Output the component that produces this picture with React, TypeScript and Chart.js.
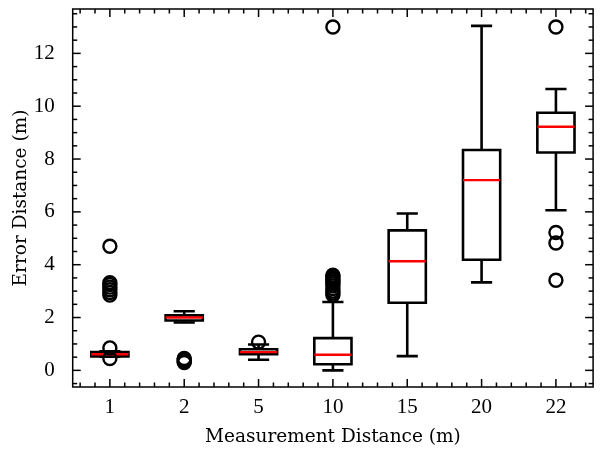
import React, { useEffect, useRef } from 'react';
import { Chart, registerables } from 'chart.js';

Chart.register(...registerables);

// ---- data ----
const categories = ['1', '2', '5', '10', '15', '20', '22'];
const whiskerLow = [0.52, 1.81, 0.4, 0.0, 0.54, 3.33, 6.06];
const quartile1 = [0.53, 1.89, 0.61, 0.23, 2.56, 4.19, 8.25];
const medians = [0.61, 2.0, 0.69, 0.59, 4.13, 7.2, 9.22];
const quartile3 = [0.69, 2.08, 0.8, 1.22, 5.3, 8.34, 9.75];
const whiskerHigh = [0.72, 2.24, 0.98, 2.59, 5.94, 13.04, 10.65];

const fliers1 = [0.45, 0.85, 2.85, 2.95, 3.05, 3.15, 3.25, 3.32, 4.7];
const fliers2 = [0.3, 0.34, 0.38, 0.42, 0.45];
const fliers5 = [1.07];
const fliers10 = [2.85, 2.93, 3.0, 3.1, 3.2, 3.28, 3.35, 3.42, 3.48, 3.55, 3.6, 13.0];
const fliers15: number[] = [];
const fliers20: number[] = [];
const fliers22 = [3.41, 4.82, 5.22, 13.0];
const fliers = [fliers1, fliers2, fliers5, fliers10, fliers15, fliers20, fliers22];

const yTicks = [0, 2, 4, 6, 8, 10, 12];
const yMin = -0.63;
const yMax = 13.68;
const xMin = 0.5;
const xMax = 7.5;

const xLabel = 'Measurement Distance (m)';
const yLabel = 'Error Distance (m)';

// ---- styles ----
const BOX_HALF = 0.25;
const CAP_HALF = 0.125;
const LINE_W = 2.6;
const TICK_FONT = { family: '"Liberation Serif", serif', size: 21 };
const TITLE_FONT = { family: '"DejaVu Serif", serif', size: 18.5 };

type P = { x: number; y: number | null };

function buildBoxes(): P[] {
  const pts: P[] = [];
  categories.forEach((_, i) => {
    const c = i + 1;
    pts.push({ x: c - BOX_HALF, y: quartile1[i] });
    pts.push({ x: c + BOX_HALF, y: quartile1[i] });
    pts.push({ x: c + BOX_HALF, y: quartile3[i] });
    pts.push({ x: c - BOX_HALF, y: quartile3[i] });
    pts.push({ x: c - BOX_HALF, y: quartile1[i] });
    pts.push({ x: c, y: null });
  });
  return pts;
}

function buildWhiskers(): P[] {
  const pts: P[] = [];
  categories.forEach((_, i) => {
    const c = i + 1;
    pts.push({ x: c, y: quartile1[i] }, { x: c, y: whiskerLow[i] }, { x: c, y: null });
    pts.push({ x: c, y: quartile3[i] }, { x: c, y: whiskerHigh[i] }, { x: c, y: null });
  });
  return pts;
}

function buildCaps(): P[] {
  const pts: P[] = [];
  categories.forEach((_, i) => {
    const c = i + 1;
    pts.push({ x: c - CAP_HALF, y: whiskerLow[i] }, { x: c + CAP_HALF, y: whiskerLow[i] }, { x: c, y: null });
    pts.push({ x: c - CAP_HALF, y: whiskerHigh[i] }, { x: c + CAP_HALF, y: whiskerHigh[i] }, { x: c, y: null });
  });
  return pts;
}

function buildMedians(): P[] {
  const pts: P[] = [];
  categories.forEach((_, i) => {
    const c = i + 1;
    pts.push({ x: c - BOX_HALF, y: medians[i] }, { x: c + BOX_HALF, y: medians[i] }, { x: c, y: null });
  });
  return pts;
}

function buildFliers(): P[] {
  const pts: P[] = [];
  fliers.forEach((arr, i) => arr.forEach((v) => pts.push({ x: i + 1, y: v })));
  return pts;
}

const frameTicks = {
  id: 'frameTicks',
  afterDraw(chart: any) {
    const { ctx, chartArea, scales } = chart;
    const { left, right, top, bottom } = chartArea;
    const x = scales.x;
    const y = scales.y;
    const MAJ = 8;
    const MIN = 4.5;
    ctx.save();
    ctx.strokeStyle = '#000';
    ctx.lineWidth = 1.5;
    ctx.lineCap = 'butt';
    const seg = (x1: number, y1: number, x2: number, y2: number) => {
      ctx.beginPath();
      ctx.moveTo(x1, y1);
      ctx.lineTo(x2, y2);
      ctx.stroke();
    };
    for (let k = 0; k <= 35; k++) {
      const v = xMin + 0.1 + k * 0.2;
      if (v > xMax) break;
      const isMajor = Math.abs(v - Math.round(v)) < 1e-6;
      const len = isMajor ? MAJ : MIN;
      const px = x.getPixelForValue(v);
      seg(px, bottom, px, bottom - len);
      seg(px, top, px, top + len);
    }
    for (let v = -0.5; v <= yMax; v += 0.5) {
      const isMajor = Math.abs(v / 2 - Math.round(v / 2)) < 1e-6;
      const len = isMajor ? MAJ : MIN;
      const py = y.getPixelForValue(v);
      seg(left, py, left + len, py);
      seg(right, py, right - len, py);
    }
    ctx.strokeRect(left, top, right - left, bottom - top);
    ctx.restore();
  },
};

export default function App() {
  const ref = useRef<HTMLCanvasElement | null>(null);

  useEffect(() => {
    if (!ref.current) return;
    const lineBase = {
      type: 'line' as const,
      showLine: true,
      pointRadius: 0,
      pointHoverRadius: 0,
      borderWidth: LINE_W,
      borderColor: '#000',
      backgroundColor: 'rgba(0,0,0,0)',
      fill: false,
      spanGaps: false,
      tension: 0,
      borderCapStyle: 'square' as const,
      borderJoinStyle: 'miter' as const,
    };
    const chart = new Chart(ref.current, {
      type: 'scatter',
      data: {
        datasets: [
          {
            type: 'scatter',
            label: 'fliers',
            data: buildFliers() as any,
            pointStyle: 'circle',
            pointRadius: 6.5,
            pointHoverRadius: 6.5,
            pointBorderWidth: 2.4,
            borderColor: '#000',
            backgroundColor: 'rgba(0,0,0,0)',
            order: 0,
          },
          { ...lineBase, label: 'medians', data: buildMedians() as any, borderColor: '#ff0000', borderWidth: 2.4, borderCapStyle: 'butt', order: 1 },
          { ...lineBase, label: 'caps', data: buildCaps() as any, order: 2 },
          { ...lineBase, label: 'whiskers', data: buildWhiskers() as any, borderCapStyle: 'butt', order: 3 },
          { ...lineBase, label: 'boxes', data: buildBoxes() as any, order: 4 },
        ] as any,
      },
      options: {
        responsive: false,
        animation: false,
        devicePixelRatio: 1,
        events: [],
        layout: { padding: { top: 9, left: 0, right: 0, bottom: 0 } },
        plugins: {
          legend: { display: false },
          tooltip: { enabled: false },
        },
        scales: {
          x: {
            type: 'linear',
            min: xMin,
            max: xMax,
            grid: { display: false },
            border: { display: false },
            afterBuildTicks: (s: any) => {
              s.ticks = categories.map((_, i) => ({ value: i + 1 }));
            },
            afterFit: (s: any) => {
              s.height = 64;
              s.paddingLeft = 0;
              s.paddingRight = 0;
            },
            ticks: {
              autoSkip: false,
              maxRotation: 0,
              padding: 0,
              color: '#000',
              font: TICK_FONT,
              callback: (v: any) => categories[Math.round(Number(v)) - 1] ?? '',
            },
            title: {
              display: true,
              text: xLabel,
              color: '#000',
              font: TITLE_FONT,
              padding: { top: 0, bottom: 3 },
            },
          },
          y: {
            type: 'linear',
            min: yMin,
            max: yMax,
            grid: { display: false },
            border: { display: false },
            afterBuildTicks: (s: any) => {
              s.ticks = yTicks.map((v) => ({ value: v }));
            },
            afterFit: (s: any) => {
              s.width = 72.7;
              s.paddingTop = 0;
              s.paddingBottom = 0;
            },
            ticks: {
              padding: 10,
              color: '#000',
              font: TICK_FONT,
              callback: (v: any) => String(v),
            },
            title: {
              display: true,
              text: yLabel,
              color: '#000',
              font: TITLE_FONT,
              padding: { top: 10.4, bottom: 0 },
            },
          },
        },
      } as any,
      plugins: [frameTicks],
    });
    return () => chart.destroy();
  }, []);

  return (
    <div
      style={{
        position: 'fixed',
        left: 0,
        top: 0,
        width: 601,
        height: 451,
        overflow: 'hidden',
        background: '#fff',
      }}
    >
      <canvas ref={ref} width={602} height={451} style={{ display: 'block' }} />
    </div>
  );
}
